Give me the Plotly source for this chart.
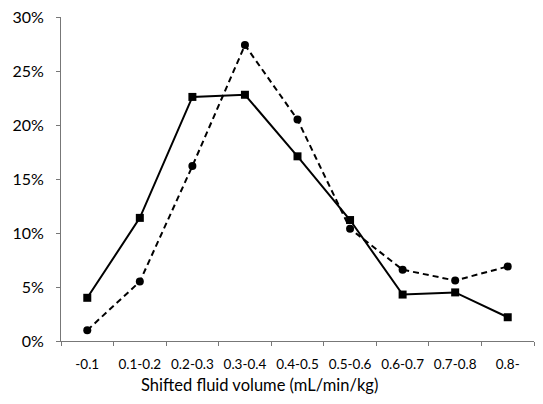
import plotly.graph_objects as go

# Shifted fluid volume bins (mL/min/kg) and share of sessions per bin
categories = ["-0.1", "0.1-0.2", "0.2-0.3", "0.3-0.4", "0.4-0.5",
              "0.5-0.6", "0.6-0.7", "0.7-0.8", "0.8-"]
series_solid = [0.040, 0.114, 0.226, 0.228, 0.171, 0.112, 0.043, 0.045, 0.022]
series_dashed = [0.010, 0.055, 0.162, 0.274, 0.205, 0.104, 0.066, 0.056, 0.069]
y_ticks = [0, 0.05, 0.10, 0.15, 0.20, 0.25, 0.30]
y_tick_labels = ["0%", "5%", "10%", "15%", "20%", "25%", "30%"]
x_title = "Shifted fluid volume (mL/min/kg)"

FONT = "Lato, 'Open Sans', sans-serif"

fig = go.Figure()
fig.add_trace(go.Scatter(
    x=categories, y=series_solid, mode="lines+markers",
    line=dict(color="black", width=2),
    marker=dict(symbol="square", size=8, color="black"),
    showlegend=False,
))
fig.add_trace(go.Scatter(
    x=categories, y=series_dashed, mode="lines+markers",
    line=dict(color="black", width=2, dash="6px,4px"),
    marker=dict(symbol="circle", size=8, color="black"),
    showlegend=False,
))

# x-axis title, placed slightly left of the plot-area centre
fig.add_annotation(
    text=x_title, xref="paper", yref="paper", x=0.42, y=-0.136,
    xanchor="center", yanchor="middle", showarrow=False,
    font=dict(size=16.5, family=FONT, color="black"),
)

fig.update_layout(
    width=543, height=404,
    margin=dict(l=61, r=9, t=17, b=63),
    paper_bgcolor="white", plot_bgcolor="white",
    font=dict(family=FONT, size=14, color="black"),
    xaxis=dict(
        type="category", range=[-0.5, 8.5], automargin=False,
        showline=True, linecolor="#777", linewidth=1,
        ticks="outside", tickson="boundaries", ticklen=4, tickcolor="#777",
        showgrid=False, zeroline=False, ticklabelstandoff=11,
        tickangle=0, tickfont=dict(size=13.5),
    ),
    yaxis=dict(
        range=[0, 0.30], tickvals=y_ticks, ticktext=y_tick_labels, automargin=False,
        showline=True, linecolor="#777", linewidth=1,
        ticks="outside", ticklen=4, tickcolor="#777",
        showgrid=False, zeroline=False, ticklabelstandoff=9,
        tickfont=dict(size=16),
    ),
)

fig.write_html("out.html")
